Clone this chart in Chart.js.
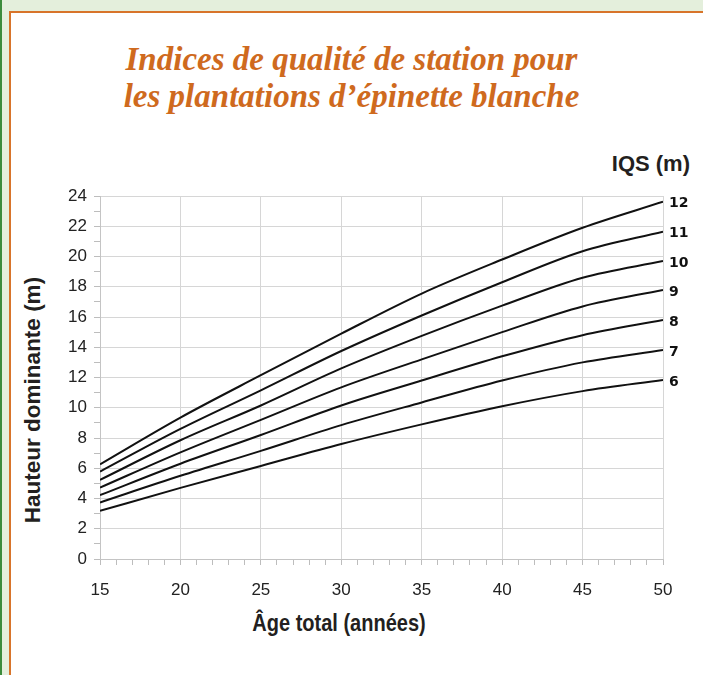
<!DOCTYPE html>
<html>
<head>
<meta charset="utf-8">
<title>Indices de qualité de station</title>
<script src="https://cdn.jsdelivr.net/npm/chart.js@4.4.1/dist/chart.umd.min.js"></script>
<style>
  html, body { margin: 0; padding: 0; }
  body { width: 703px; height: 675px; background: #e4efdc; position: relative; overflow: hidden; }
  .edge { position: absolute; left: 0; top: 0; width: 2px; height: 675px; background: #3c8c3c; }
  .frame { position: absolute; left: 9px; top: 11px; width: 720px; height: 700px; background: #fff; border: 2px solid #d8742a; }
  .title { position: absolute; left: 0; top: 41px; width: 703px; text-align: center;
           font: bold italic 33px "Liberation Serif", serif; line-height: 37px; color: #cf6a1e; }
  .iqs { position: absolute; right: 13px; top: 151px; line-height: 24px; white-space: nowrap;
         font: bold 22px "Liberation Sans", sans-serif; color: #231f20; }
  .xtitle { position: absolute; left: 209px; top: 610px; width: 260px; text-align: center; line-height: 28px; white-space: nowrap;
            font: bold 23px "Liberation Sans", sans-serif; color: #231f20; transform: scaleX(0.87); }
  .ytitle { position: absolute; left: -116px; top: 386px; width: 300px; height: 28px; text-align: center; line-height: 28px; white-space: nowrap;
            font: bold 22.5px "Liberation Sans", sans-serif; color: #231f20; transform: rotate(-90deg); }
  #chart { position: absolute; left: 0; top: 0; }
</style>
</head>
<body>
<div class="edge"></div>
<div class="frame"></div>
<div class="title">Indices de qualité de station pour<br>les plantations d’épinette blanche</div>
<div class="iqs">IQS (m)</div>
<div class="xtitle">Âge total (années)</div>
<div class="ytitle">Hauteur dominante (m)</div>
<canvas id="chart" width="703" height="675"></canvas>

<script>
// Âge total (années)
const ages = [15, 20, 25, 30, 35, 40, 45, 50];

// Hauteur dominante (m) par indice de qualité de station
const iqs12 = [6.26, 9.35, 12.15, 14.9, 17.55, 19.8, 21.9, 23.62];
const iqs11 = [5.78, 8.6, 11.15, 13.75, 16.1, 18.3, 20.35, 21.64];
const iqs10 = [5.23, 7.85, 10.15, 12.6, 14.75, 16.75, 18.6, 19.7];
const iqs9 = [4.72, 7.05, 9.2, 11.35, 13.2, 15.0, 16.7, 17.79];
const iqs8 = [4.22, 6.3, 8.2, 10.15, 11.8, 13.4, 14.8, 15.8];
const iqs7 = [3.74, 5.5, 7.15, 8.85, 10.35, 11.8, 13.0, 13.82];
const iqs6 = [3.18, 4.7, 6.15, 7.6, 8.9, 10.1, 11.1, 11.83];

const curveLabels = ['12', '11', '10', '9', '8', '7', '6'];
const curves = [iqs12, iqs11, iqs10, iqs9, iqs8, iqs7, iqs6];

const xMin = 15, xMax = 50;
const yMin = 0, yMax = 24;

// IQS value written at the end of each curve
const endLabels = {
    id: 'endLabels',
    afterDatasetsDraw(chart) {
        const ctx = chart.ctx;
        ctx.save();
        ctx.font = 'bold 14px "DejaVu Sans", sans-serif';
        ctx.fillStyle = '#111';
        ctx.textAlign = 'left';
        ctx.textBaseline = 'middle';
        chart.data.datasets.forEach((ds, i) => {
            const pts = chart.getDatasetMeta(i).data;
            const last = pts[pts.length - 1];
            ctx.fillText(ds.label, last.x + 6, last.y + 2);
        });
        ctx.restore();
    }
};

const gridColor = (major) => (c) => (c.tick && c.tick.value % major === 0) ? '#d6d6d6' : 'rgba(0,0,0,0)';

new Chart(document.getElementById('chart').getContext('2d'), {
    type: 'line',
    data: {
        datasets: curves.map((vals, i) => ({
            label: curveLabels[i],
            data: vals.map((v, j) => ({ x: ages[j], y: v })),
            borderColor: '#111',
            borderWidth: 2,
            pointRadius: 0,
            fill: false,
            cubicInterpolationMode: 'monotone'
        }))
    },
    options: {
        responsive: false,
        animation: false,
        devicePixelRatio: 1,
        layout: { padding: { left: 0, top: 196, right: 40, bottom: 36 } },
        plugins: {
            legend: { display: false },
            tooltip: { enabled: false }
        },
        scales: {
            x: {
                type: 'linear',
                min: xMin,
                max: xMax,
                afterFit: (scale) => { scale.height = 80; },
                border: { color: '#c4c4c4' },
                grid: { color: gridColor(5), tickColor: '#bdbdbd', tickLength: 6 },
                ticks: {
                    stepSize: 1,
                    autoSkip: false,
                    maxRotation: 0,
                    padding: 15,
                    color: '#222',
                    font: { family: '"Liberation Sans", Arial, sans-serif', size: 17 },
                    callback: (v) => (v % 5 === 0 ? v : '')
                }
            },
            y: {
                min: yMin,
                max: yMax,
                afterFit: (scale) => { scale.width = 100; },
                border: { color: '#c4c4c4' },
                grid: { color: gridColor(2), tickColor: '#bdbdbd', tickLength: 6 },
                ticks: {
                    stepSize: 1,
                    autoSkip: false,
                    padding: 7,
                    color: '#222',
                    font: { family: '"Liberation Sans", Arial, sans-serif', size: 17 },
                    callback: (v) => (v % 2 === 0 ? v : '')
                }
            }
        }
    },
    plugins: [endLabels]
});
</script>
</body>
</html>
